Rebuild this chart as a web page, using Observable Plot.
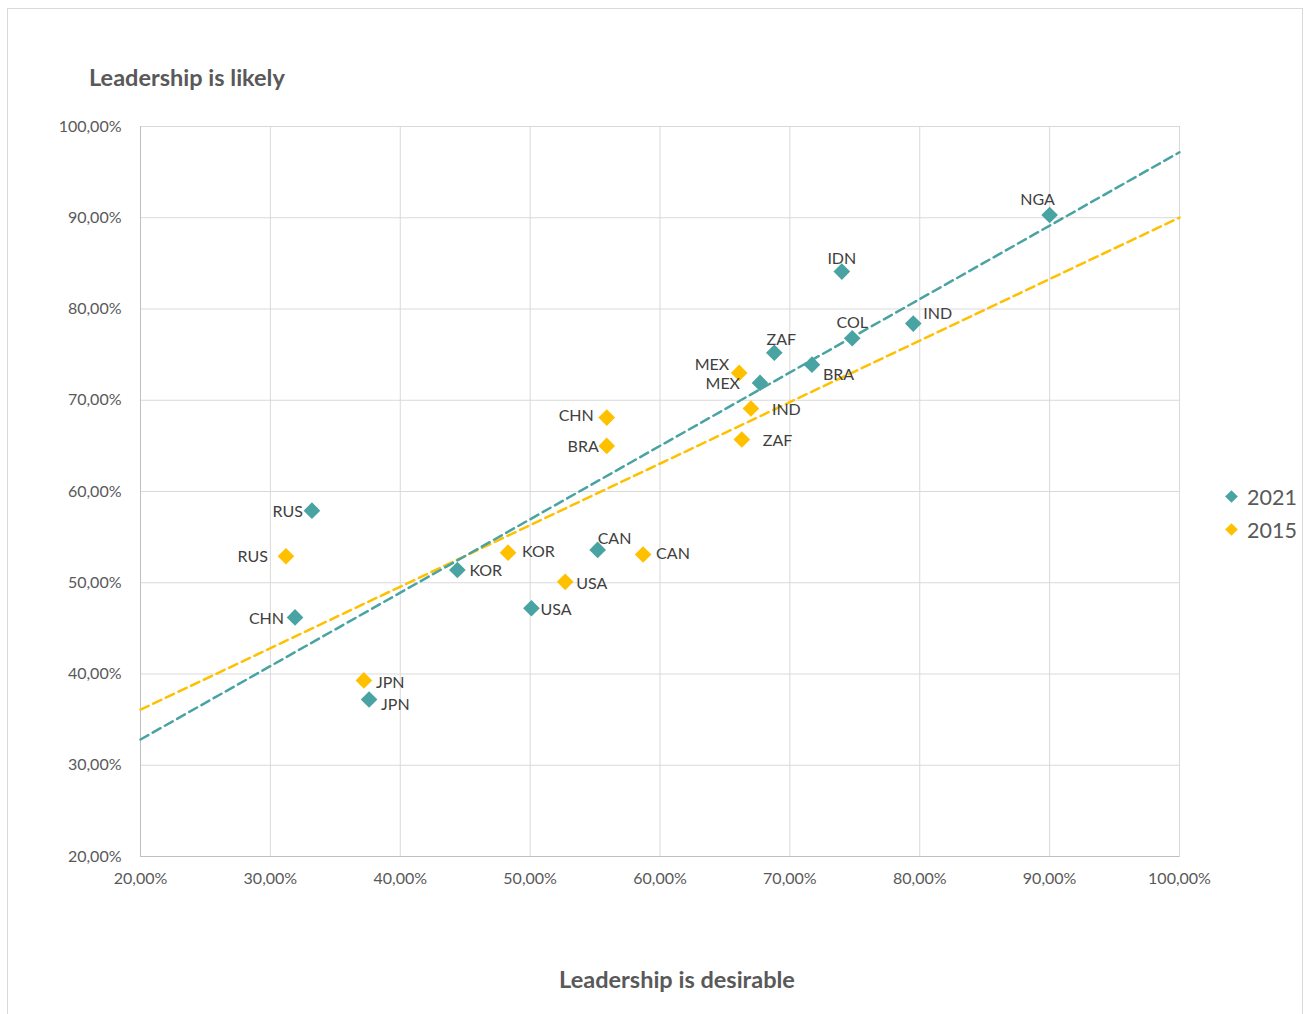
<!DOCTYPE html>
<html><head><meta charset="utf-8">
<script src="https://cdn.jsdelivr.net/npm/d3@7"></script>
<script src="https://cdn.jsdelivr.net/npm/@observablehq/plot@0.6"></script>
<style>
body{margin:0;background:#fff;font-family:Lato,"Open Sans",sans-serif;}
#wrap{position:relative;width:1306px;height:1014px;overflow:hidden;}
#border{position:absolute;left:7px;top:8px;width:1296px;height:1020px;border:1px solid #d9d9d9;box-sizing:border-box;}
#chart{position:absolute;left:0;top:100px;}
.title{position:absolute;font-weight:bold;font-size:23.5px;color:#595959;white-space:nowrap;}
#ytitle{left:89px;top:63px;}
#xtitle{left:0;width:1354px;text-align:center;top:965px;}
#legend{position:absolute;left:1223px;top:480px;font-size:21.5px;color:#595959;}
.li{display:flex;align-items:center;height:33px;}
.dia{width:9px;height:9px;transform:rotate(45deg);margin:0 11px 0 4px;}
</style></head>
<body>
<div id="wrap">
<div id="border"></div>
<div class="title" id="ytitle">Leadership is likely</div>
<div id="chart"></div>
<div class="title" id="xtitle">Leadership is desirable</div>
<div id="legend"></div>
</div>
<script>
// ---- data (percent) ----
const series = ["2021", "2015"];
const seriesColors = ["#4aa3a3", "#ffc000"];

const countries2021 = ["NGA","IDN","IND","COL","ZAF","BRA","MEX","RUS","CHN","KOR","USA","CAN","JPN"];
const desirable2021 = [90.0, 74.0, 79.5, 74.8, 68.8, 71.7, 67.7, 33.2, 31.9, 44.4, 50.1, 55.2, 37.6];
const likely2021    = [90.3, 84.1, 78.4, 76.8, 75.2, 73.9, 71.9, 57.9, 46.2, 51.4, 47.2, 53.6, 37.2];

const countries2015 = ["MEX","IND","ZAF","CHN","BRA","RUS","KOR","USA","CAN","JPN"];
const desirable2015 = [66.1, 67.0, 66.3, 55.9, 55.9, 31.2, 48.3, 52.7, 58.7, 37.2];
const likely2015    = [73.0, 69.1, 65.7, 68.1, 65.0, 52.9, 53.3, 50.1, 53.1, 39.3];

const axisTicks = [20, 30, 40, 50, 60, 70, 80, 90, 100];

// label placement (style only): [dx, dy, anchor]
const labelPlacement = {
  "2021-NGA": [-12, -15, "middle"], "2021-IDN": [0, -13, "middle"], "2021-IND": [10, -10, "start"],
  "2021-COL": [0, -15, "middle"], "2021-ZAF": [7, -13, "middle"], "2021-BRA": [11, 10, "start"],
  "2021-MEX": [-20, 1, "end"], "2021-RUS": [-9, 1, "end"], "2021-CHN": [-11, 1, "end"],
  "2021-KOR": [12, 1, "start"], "2021-USA": [9, 2, "start"], "2021-CAN": [0, -11, "start"],
  "2021-JPN": [12, 5, "start"],
  "2015-MEX": [-10, -8, "end"], "2015-IND": [21, 1, "start"], "2015-ZAF": [21, 1, "start"],
  "2015-CHN": [-13, -2, "end"], "2015-BRA": [-8, 1, "end"], "2015-RUS": [-18, 1, "end"],
  "2015-KOR": [14, -1, "start"], "2015-USA": [11, 2, "start"], "2015-CAN": [13, -1, "start"],
  "2015-JPN": [12, 2, "start"]
};

const rows = [
  ...countries2021.map((c, i) => ({series: "2021", country: c, x: desirable2021[i], y: likely2021[i]})),
  ...countries2015.map((c, i) => ({series: "2015", country: c, x: desirable2015[i], y: likely2015[i]}))
];

function regression(xs, ys) {
  const mx = d3.mean(xs), my = d3.mean(ys);
  const sxy = d3.sum(xs, (x, i) => (x - mx) * (ys[i] - my));
  const sxx = d3.sum(xs, x => (x - mx) ** 2);
  const b = sxy / sxx, a = my - b * mx;
  return [20, 100].map(x => ({x, y: a + b * x}));
}
const trend2021 = regression(desirable2021, likely2021);
const trend2015 = regression(desirable2015, likely2015);

const fmt = d => d.toFixed(2).replace(".", ",") + "%";

const labelMarks = rows.map(r => {
  const [dx, dy, anchor] = labelPlacement[r.series + "-" + r.country];
  return Plot.text([r], {x: "x", y: "y", text: "country", dx, dy, textAnchor: anchor,
    fill: "#404040", fontSize: 16, lineAnchor: "middle"});
});

const plot = Plot.plot({
  width: 1239, height: 800,
  marginLeft: 140, marginTop: 26, marginRight: 60, marginBottom: 44,
  style: {fontFamily: "Lato, 'Open Sans', sans-serif", fontSize: "16px", color: "#595959", background: "transparent", overflow: "visible"},
  x: {domain: [20, 100]},
  y: {domain: [20, 100]},
  marks: [
    Plot.gridX(axisTicks, {stroke: "#d9d9d9", strokeOpacity: 1}),
    Plot.gridY(axisTicks, {stroke: "#d9d9d9", strokeOpacity: 1}),
    Plot.frame({stroke: "#d9d9d9"}),
    Plot.ruleX([20], {stroke: "#bfbfbf"}),
    Plot.ruleY([20], {stroke: "#bfbfbf"}),
    Plot.axisX(axisTicks, {tickSize: 0, tickPadding: 16, tickFormat: fmt, label: null}),
    Plot.axisY(axisTicks, {tickSize: 0, tickPadding: 19, tickFormat: fmt, label: null}),
    Plot.line(trend2015, {x: "x", y: "y", stroke: seriesColors[1], strokeWidth: 2.5, strokeDasharray: "9,5"}),
    Plot.line(trend2021, {x: "x", y: "y", stroke: seriesColors[0], strokeWidth: 2.5, strokeDasharray: "9,5"}),
    Plot.dot(rows.filter(r => r.series === "2015"), {x: "x", y: "y", symbol: "diamond2", r: 7.5, fill: seriesColors[1], stroke: "none"}),
    Plot.dot(rows.filter(r => r.series === "2021"), {x: "x", y: "y", symbol: "diamond2", r: 7.5, fill: seriesColors[0], stroke: "none"}),
    ...labelMarks
  ]
});
document.getElementById("chart").appendChild(plot);

const legend = document.getElementById("legend");
series.forEach((s, i) => {
  const div = document.createElement("div");
  div.className = "li";
  div.innerHTML = `<span class="dia" style="background:${seriesColors[i]}"></span><span>${s}</span>`;
  legend.appendChild(div);
});
</script>
</body></html>
